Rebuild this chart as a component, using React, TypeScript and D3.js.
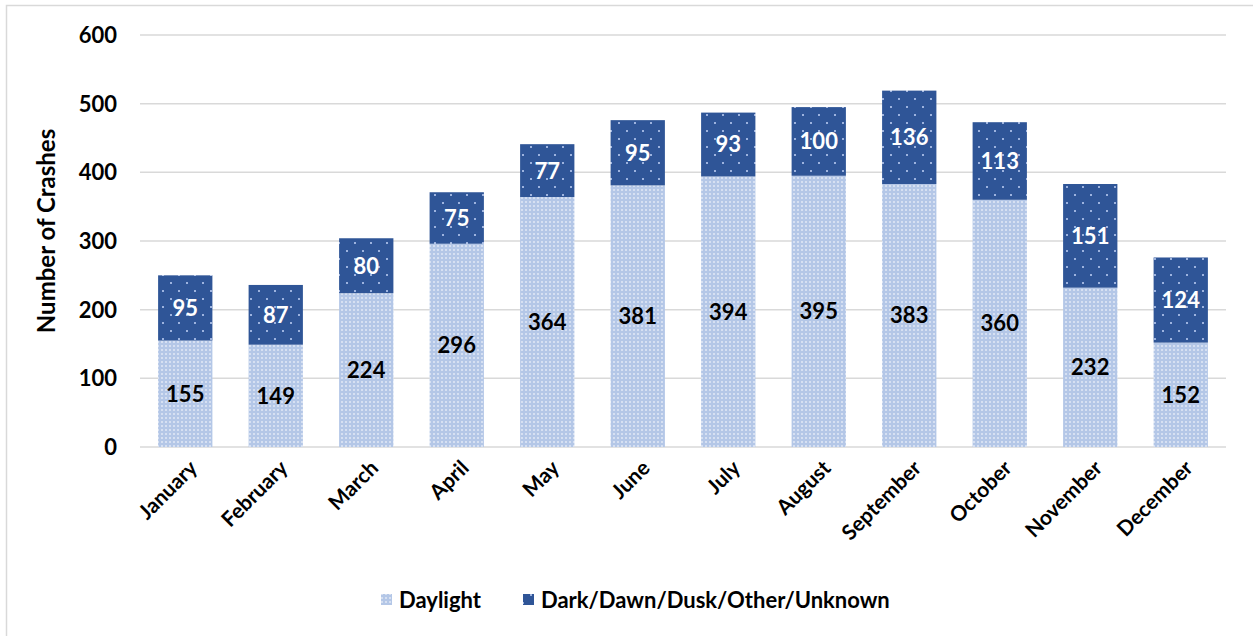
import React from "react";
import * as d3 from "d3";

const months = ["January", "February", "March", "April", "May", "June", "July", "August", "September", "October", "November", "December"];
const daylight = [155, 149, 224, 296, 364, 381, 394, 395, 383, 360, 232, 152];
const darkOther = [95, 87, 80, 75, 77, 95, 93, 100, 136, 113, 151, 124];
const yTicks = [0, 100, 200, 300, 400, 500, 600];
const seriesNames = ["Daylight", "Dark/Dawn/Dusk/Other/Unknown"];

const W = 1253;
const H = 636;
const FONT = "Lato, 'Open Sans', sans-serif";

export default function App() {
  const x = d3.scaleBand<string>().domain(months).range([140, 1226]).paddingInner(0.4).paddingOuter(0.2);
  const y = d3.scaleLinear().domain([0, 600]).range([447, 35]);
  const bw = x.bandwidth();

  return (
    <svg width={W} height={H} style={{ position: "absolute", left: 0, top: 0, background: "#fff" }} fontFamily={FONT}>
      <defs>
        <pattern id="dayPat" width="4" height="4" patternUnits="userSpaceOnUse">
          <rect width="4" height="4" fill="#b4c7e7" />
          <rect x="1" y="1" width="2" height="2" fill="#d6e0f2" />
        </pattern>
        <pattern id="darkPat" width="16" height="16" patternUnits="userSpaceOnUse">
          <rect width="16" height="16" fill="#2f5597" />
          <rect x="2" y="2" width="2" height="2" fill="#9db3df" />
          <rect x="10" y="10" width="2" height="2" fill="#9db3df" />
        </pattern>
      </defs>
      <rect x={6.5} y={5.5} width={W + 10} height={H + 10} fill="none" stroke="#d9d9d9" strokeWidth={1.5} />

      {yTicks.map((t) => (
        <g key={t}>
          <line x1={140} x2={1226} y1={y(t)} y2={y(t)} stroke="#d9d9d9" strokeWidth={1.5} />
          <text x={117} y={y(t)} dy="0.36em" textAnchor="end" fontSize={22} fontWeight={700} fill="#000">
            {t}
          </text>
        </g>
      ))}

      <text transform={`translate(55,231) rotate(-90)`} textAnchor="middle" fontSize={24} fontWeight={700} fill="#000">
        Number of Crashes
      </text>

      {months.map((m, i) => {
        const x0 = x(m)!;
        const d = daylight[i];
        const k = darkOther[i];
        return (
          <g key={m}>
            <rect x={x0} y={y(d)} width={bw} height={y(0) - y(d)} fill="url(#dayPat)" />
            <rect x={x0} y={y(d + k)} width={bw} height={y(d) - y(d + k)} fill="url(#darkPat)" />
            <text x={x0 + bw / 2} y={y(d / 2)} dy="0.36em" textAnchor="middle" fontSize={22} fontWeight={700} fill="#000">
              {d}
            </text>
            <text x={x0 + bw / 2} y={y(d + k / 2)} dy="0.36em" textAnchor="middle" fontSize={22} fontWeight={700} fill="#fff">
              {k}
            </text>
            <text
              transform={`translate(${x0 + bw / 2 + 8},${464}) rotate(-45)`}
              textAnchor="end"
              dy="0.36em"
              fontSize={21}
              fontWeight={700}
              fill="#000"
            >
              {m}
            </text>
          </g>
        );
      })}

      <g>
        <rect x={381} y={594} width={11} height={11} fill="url(#dayPat)" />
        <text x={399} y={600} dy="0.36em" fontSize={22} fontWeight={700} fill="#000">
          {seriesNames[0]}
        </text>
        <rect x={523} y={594} width={11} height={11} fill="url(#darkPat)" />
        <text x={541} y={600} dy="0.36em" fontSize={22} fontWeight={700} fill="#000">
          {seriesNames[1]}
        </text>
      </g>
    </svg>
  );
}
